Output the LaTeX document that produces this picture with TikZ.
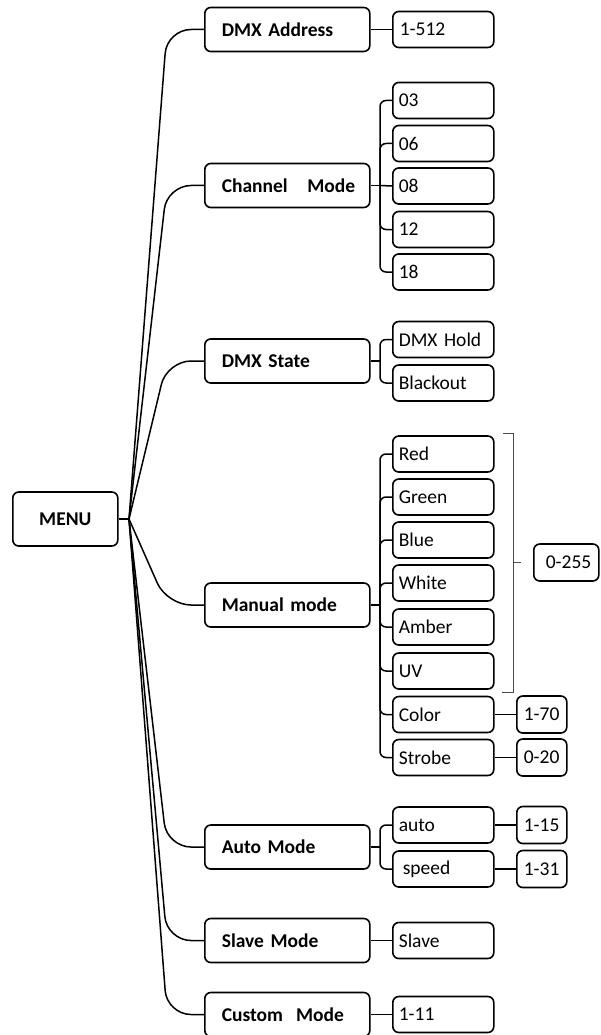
\documentclass[tikz,border=0pt]{standalone}
\usepackage{fontspec}
\setmainfont{Carlito}
\usetikzlibrary{calc}
\begin{document}
\begin{tikzpicture}[x=1pt,y=-1pt,
  box/.style={draw, line width=1.6pt, rounded corners=6pt, inner xsep=0pt, inner ysep=0pt,
    align=left, anchor=west, font=\fontsize{19.5}{23}\selectfont},
  mid/.style={box, text width=165pt, minimum height=44pt, font=\bfseries\fontsize{19.5}{23}\selectfont},
  leaf/.style={box, text width=101pt, minimum height=36pt},
  val/.style={box, text width=50pt, minimum height=37pt},
  conn/.style={line width=1.5pt},
  fanline/.style={conn, rounded corners=24pt},
  brk/.style={conn, rounded corners=6pt},
  grp/.style={line width=1pt, black!70}
]
\useasboundingbox (0,0) rectangle (601,1035);

% root
\node[box, align=center, text width=105pt, minimum height=54pt, font=\bfseries\fontsize{19.5}{23}\selectfont] (menu) at (12,519) {MENU};
\coordinate (fan) at (129,519);
\coordinate (cx) at (167,0);
\coordinate (bx) at (380,0);

% second level
\node[mid] (addr) at (204,29.5) {\hspace*{17pt}DMX Address};
\node[mid] (chan) at (204,185.5) {\hspace*{17pt}Channel\ \ \ Mode};
\node[mid] (state) at (204,361) {\hspace*{17pt}DMX State};
\node[mid] (manual) at (204,605) {\hspace*{17pt}Manual mode};
\node[mid] (auto) at (204,847) {\hspace*{17pt}Auto Mode};
\node[mid] (slavem) at (204,940.5) {\hspace*{17pt}Slave Mode};
\node[mid] (custom) at (204,1014.5) {\hspace*{17pt}Custom\ \ Mode};

% leaves
\node[leaf] (v512) at (392,29.5) {\hspace*{7pt}1-512};
\node[leaf] (c03) at (392,100.5) {\hspace*{6pt}03};
\node[leaf] (c06) at (392,143.5) {\hspace*{6pt}06};
\node[leaf] (c08) at (392,186) {\hspace*{6pt}08};
\node[leaf] (c12) at (392,229.5) {\hspace*{6pt}12};
\node[leaf] (c18) at (392,272) {\hspace*{6pt}18};
\node[leaf] (hold) at (392,339.5) {\hspace*{6pt}DMX Hold};
\node[leaf] (black) at (392,383) {\hspace*{6pt}Blackout};
\node[leaf] (red) at (392,454) {\hspace*{6pt}Red};
\node[leaf] (green) at (392,497) {\hspace*{6pt}Green};
\node[leaf] (blue) at (392,540) {\hspace*{6pt}Blue};
\node[leaf] (white) at (392,583) {\hspace*{6pt}White};
\node[leaf] (amber) at (392,627) {\hspace*{6pt}Amber};
\node[leaf] (uv) at (392,671) {\hspace*{6pt}UV};
\node[leaf] (color) at (392,714.5) {\hspace*{6pt}Color};
\node[leaf] (strobe) at (392,757.5) {\hspace*{6pt}Strobe};
\node[leaf] (autol) at (392,825) {\hspace*{6pt}auto};
\node[leaf] (speed) at (392,869) {\hspace*{10pt}speed};
\node[leaf] (slave) at (392,940.5) {\hspace*{6pt}Slave};
\node[leaf] (v111) at (392,1014.5) {\hspace*{6pt}1-11};

% values
\node[val] (v170) at (516,714.5) {\hspace*{7pt}1-70};
\node[val] (v020) at (516,757.5) {\hspace*{7pt}0-20};
\node[val] (v115) at (516,825) {\hspace*{7pt}1-15};
\node[val] (v131) at (516,869) {\hspace*{7pt}1-31};
\node[box, text width=65pt, minimum height=37pt] (v255) at (533,562.5) {\hspace*{12pt}0-255};

% root fan
\draw[conn] (menu.east) -- (fan);
\foreach \m in {addr,chan,state,manual,auto,slavem,custom}
  \draw[fanline] (fan) -- (\m.west -| cx) -- (\m.west);

% single links
\draw[conn] (addr.east) -- (v512.west);
\draw[conn] (slavem.east) -- (slave.west);
\draw[conn] (custom.east) -- (v111.west);
\draw[conn] (color.east) -- (v170.west);
\draw[conn] (strobe.east) -- (v020.west);
\draw[conn] (autol.east) -- (v115.west);
\draw[conn] (speed.east) -- (v131.west);

% brackets
\draw[conn] (chan.east) -- (chan.east -| bx);
\foreach \c in {c03,c06,c12,c18}
  \draw[brk] (chan.east -| bx) |- (\c.west);
\draw[conn] (chan.east -| bx) -- (c08.west);

\draw[conn] (state.east) -- (state.east -| bx);
\foreach \c in {hold,black}
  \draw[brk] (state.east -| bx) |- (\c.west);

\draw[conn] (manual.east) -- (manual.east -| bx);
\foreach \c in {red,green,blue,white,amber,uv,color,strobe}
  \draw[brk] (manual.east -| bx) |- (\c.west);

\draw[conn] (auto.east) -- (auto.east -| bx);
\foreach \c in {autol,speed}
  \draw[brk] (auto.east -| bx) |- (\c.west);

% group bracket for 0-255
\coordinate (gt) at (503,433);
\coordinate (gb) at (502,692);
\coordinate (gx) at (513,0);
\coordinate (tickend) at (521,562.5);
\draw[grp] (gt) -- (gt -| gx) -- (gb -| gx) -- (gb);
\draw[grp] (tickend -| gx) -- (tickend);
\end{tikzpicture}
\end{document}
